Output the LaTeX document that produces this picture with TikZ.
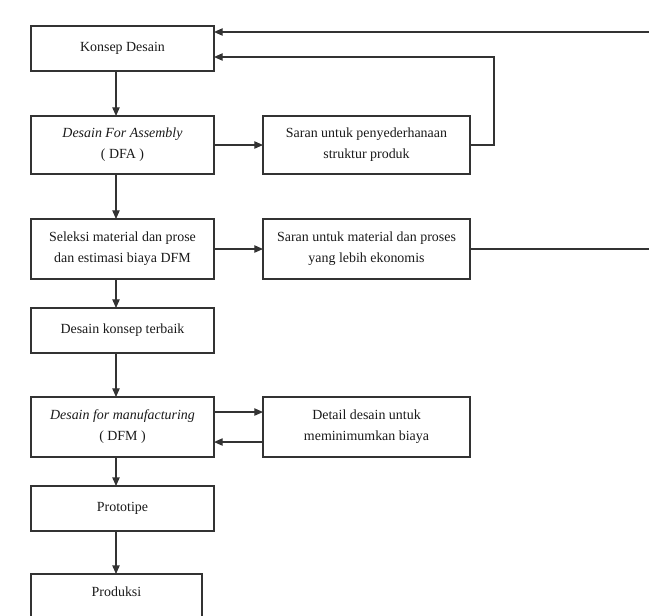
\documentclass[tikz,border=0pt]{standalone}
\usepackage{fontspec}
\setmainfont{Liberation Serif}
\usetikzlibrary{arrows.meta,calc,positioning}

\begin{document}
\begin{tikzpicture}[x=0.03cm,y=-0.03cm,
  box/.style={draw=black!80, line width=1.1pt, align=center, inner sep=0pt, outer sep=0pt,
    font=\fontsize{11.9}{18}\selectfont, text=black!90},
  lbox/.style={box, minimum width=5.49cm},
  rbox/.style={box, minimum width=6.21cm},
  flow/.style={draw=black!80, line width=1.1pt, -{Triangle[length=0.26cm,width=0.22cm]}}]
  \useasboundingbox (0,0) rectangle (649,615);
  \clip (0,0) rectangle (649,615);
  \coordinate (axis) at (116,0);
  %
  \node[lbox, minimum height=1.35cm] at (122.5,48.5) (konsep) {Konsep Desain};
  \node[lbox, minimum height=1.74cm, below=1.35cm of konsep] (dfa) {\textit{Desain For Assembly}\\( DFA )};
  \node[rbox, minimum height=1.74cm, right=1.47cm of dfa] (saranA) {Saran untuk penyederhanaan\\struktur produk};
  \node[lbox, minimum height=1.8cm, below=1.35cm of dfa] (seleksi) {Seleksi material dan prose\\dan estimasi biaya DFM};
  \node[rbox, minimum height=1.8cm, right=1.47cm of seleksi] (saranM) {Saran untuk material dan proses\\yang lebih ekonomis};
  \node[lbox, minimum height=1.35cm, below=0.87cm of seleksi] (terbaik) {Desain konsep terbaik};
  \node[lbox, minimum height=1.8cm, below=1.32cm of terbaik] (dfm) {\textit{Desain for manufacturing}\\( DFM )};
  \node[rbox, minimum height=1.8cm, right=1.47cm of dfm] (detail) {Detail desain untuk\\meminimumkan biaya};
  \node[lbox, minimum height=1.35cm, below=0.87cm of dfm] (proto) {Prototipe};
  \node[box, minimum width=5.13cm, text height=0.66cm, text depth=1.2cm,
    below=1.29cm of proto.south west, anchor=north west] (produksi) {Produksi};
  %
  \draw[flow] (konsep.south -| axis) -- (dfa.north -| axis);
  \draw[flow] (dfa.south -| axis) -- (seleksi.north -| axis);
  \draw[flow] (seleksi.south -| axis) -- (terbaik.north -| axis);
  \draw[flow] (terbaik.south -| axis) -- (dfm.north -| axis);
  \draw[flow] (dfm.south -| axis) -- (proto.north -| axis);
  \draw[flow] (proto.south -| axis) -- (produksi.north -| axis);
  \draw[flow] (dfa) -- (saranA);
  \draw[flow] (seleksi) -- (saranM);
  \draw[flow] ($(dfm.east)+(0,-15)$) -- ($(detail.west)+(0,-15)$);
  \draw[flow] ($(detail.west)+(0,15)$) -- ($(dfm.east)+(0,15)$);
  \draw[flow] (saranA.east) -- ++(24,0) |- ($(konsep.east)+(0,8.5)$);
  \draw[flow] (saranM.east) -- ++(220,0) |- ($(konsep.east)+(0,-16.5)$);
\end{tikzpicture}
\end{document}
